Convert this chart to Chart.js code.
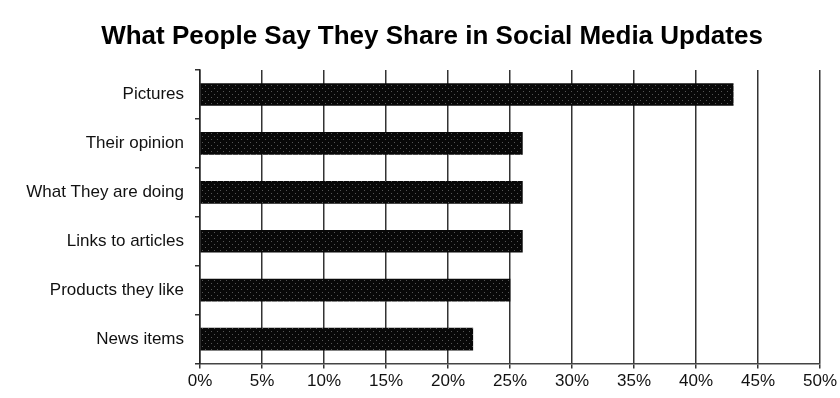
<!DOCTYPE html>
<html>
<head>
<meta charset="utf-8">
<script src="https://cdn.jsdelivr.net/npm/chart.js@4"></script>
<style>
  html, body { margin: 0; padding: 0; background: #fff; }
  #wrap { width: 840px; height: 398px; }
</style>
</head>
<body>
<div id="wrap"><canvas id="chart"></canvas></div>
<script>
const categories = ['Pictures', 'Their opinion', 'What They are doing', 'Links to articles', 'Products they like', 'News items']
const shares = [43, 26, 26, 26, 25, 22]
const tickLabels = ['0%', '5%', '10%', '15%', '20%', '25%', '30%', '35%', '40%', '45%', '50%']
const chartTitle = 'What People Say They Share in Social Media Updates'

// dark bar with a faint dotted screen, like the printed original
function dotPattern() {
  const c = document.createElement('canvas')
  c.width = 6
  c.height = 6
  const g = c.getContext('2d')
  g.fillStyle = '#080808'
  g.fillRect(0, 0, 6, 6)
  g.fillStyle = 'rgba(150,150,150,0.55)'
  g.fillRect(1, 1, 1, 1)
  g.fillRect(4, 4, 1, 1)
  return g.createPattern(c, 'repeat')
}

// title is a bit right of the canvas centre in the original, so draw it here
const titlePlugin = {
  id: 'offsetTitle',
  afterDraw(chart) {
    const c = chart.ctx
    c.save()
    c.font = 'bold 26px "Liberation Sans", Arial, sans-serif'
    c.fillStyle = '#000'
    c.textAlign = 'center'
    c.textBaseline = 'middle'
    c.fillText(chartTitle, 432, 37)
    c.restore()
  }
}

const ctx = document.getElementById('chart').getContext('2d')
new Chart(ctx, {
  type: 'bar',
  data: {
    labels: categories,
    datasets: [{
      data: shares,
      backgroundColor: dotPattern(),
      borderWidth: 0,
      barThickness: 22,
    }]
  },
  options: {
    indexAxis: 'y',
    responsive: true,
    maintainAspectRatio: false,
    animation: false,
    layout: { padding: { left: 0, right: 17, top: 70, bottom: 3 } },
    scales: {
      x: {
        min: 0,
        max: 50,
        ticks: {
          stepSize: 5,
          color: '#111',
          font: { family: 'Liberation Sans, Arial, sans-serif', size: 17 },
          padding: 3,
          maxRotation: 0,
          callback: (v, i) => tickLabels[i],
        },
        grid: {
          color: '#333',
          lineWidth: 1.5,
          tickLength: 5,
        },
        border: { display: true, color: '#444', width: 1.5 },
      },
      y: {
        afterFit: (scale) => { scale.width = 200 },
        ticks: {
          color: '#111',
          font: { family: 'Liberation Sans, Arial, sans-serif', size: 17 },
          padding: 11,
        },
        grid: {
          offset: true,
          drawOnChartArea: false,
          color: '#333',
          lineWidth: 1.5,
          tickLength: 5,
        },
        border: { display: true, color: '#222', width: 1.5 },
      }
    },
    plugins: {
      legend: { display: false },
      tooltip: { enabled: false },
      title: { display: false },
    }
  },
  plugins: [titlePlugin]
})
</script>
</body>
</html>
